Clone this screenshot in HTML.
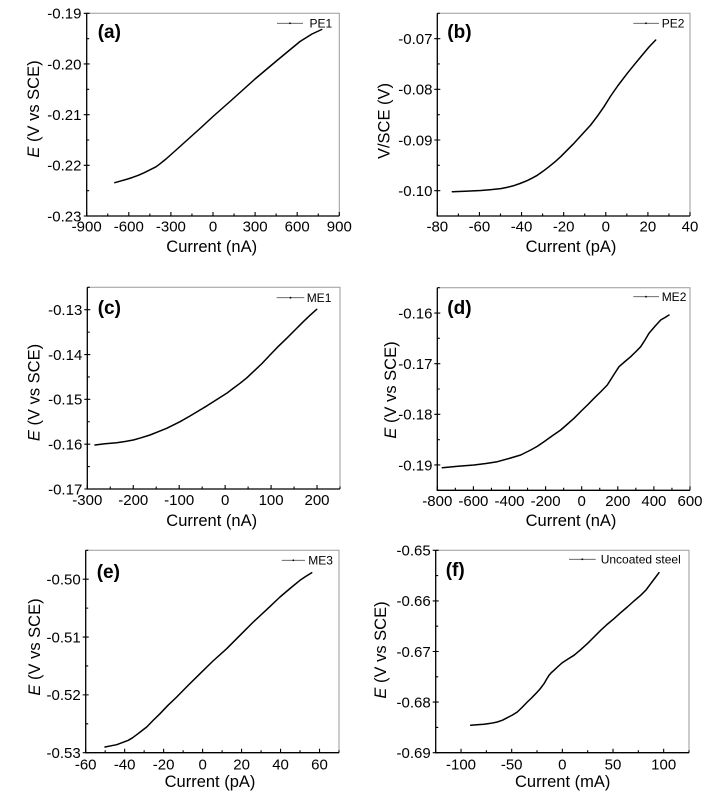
<!DOCTYPE html>
<html>
<head>
<meta charset="utf-8">
<style>
html,body{margin:0;padding:0;background:#fff;}
svg{display:block;}
text{font-family:"Liberation Sans",Arial,sans-serif;fill:#000;}
.tl{font-size:15px;}
.tt{font-size:16.5px;}
.pl{font-size:19px;font-weight:bold;}
.lg{font-size:12px;}
.ax{stroke:#000;stroke-width:1.3;fill:none;}
.fr{stroke:#9a9a9a;stroke-width:1;fill:none;}
.tk{stroke:#000;stroke-width:1.1;fill:none;}
.cv{stroke:#000;stroke-width:1.5;fill:none;stroke-linejoin:round;stroke-linecap:round;}
.ll{stroke:#555;stroke-width:0.9;fill:none;}
</style>
</head>
<body>
<svg width="728" height="802" viewBox="0 0 728 802" xmlns="http://www.w3.org/2000/svg">
<rect width="728" height="802" fill="#fff"/>

<!-- ================= Panel (a) ================= -->
<g>
<path class="fr" d="M86.7 13.3 H339.3 V216"/>
<path class="ax" d="M86.7 13.3 V216 H339.3"/>
<path class="tk" d="M86.7 216v-4M107.75 216v-2.5M128.8 216v-4M149.85 216v-2.5M170.9 216v-4M191.95 216v-2.5M213 216v-4M234.05 216v-2.5M255.1 216v-4M276.15 216v-2.5M297.2 216v-4M318.25 216v-2.5M339.3 216v-4"/>
<path class="tk" d="M83.7 13.3h6M86.7 38.64h2.5M83.7 63.98h6M86.7 89.32h2.5M83.7 114.66h6M86.7 140h2.5M83.7 165.34h6M86.7 190.68h2.5M83.7 216h6"/>
<g class="tl" text-anchor="end">
<text x="81.5" y="18.6">-0.19</text>
<text x="81.5" y="69.3">-0.20</text>
<text x="81.5" y="120">-0.21</text>
<text x="81.5" y="170.6">-0.22</text>
<text x="81.5" y="221.3">-0.23</text>
</g>
<g class="tl" text-anchor="middle">
<text x="86.7" y="231.5">-900</text>
<text x="128.8" y="231.5">-600</text>
<text x="170.9" y="231.5">-300</text>
<text x="213" y="231.5">0</text>
<text x="255.1" y="231.5">300</text>
<text x="297.2" y="231.5">600</text>
<text x="339.3" y="231.5">900</text>
</g>
<text class="tt" x="211.7" y="252" text-anchor="middle">Current (nA)</text>
<text class="tt" transform="translate(39 109) rotate(-90)" text-anchor="middle"><tspan font-style="italic">E</tspan> (V vs SCE)</text>
<text class="pl" x="97.7" y="38">(a)</text>
<path class="ll" d="M277 23.3H303"/><circle cx="290" cy="23.3" r="0.9" fill="#000"/>
<text class="lg" x="309.5" y="27.6">PE1</text>
<polyline class="cv" points="114.8,182.7 120,181.2 126,179.5 132,177.6 138,175.4 144,172.8 150,169.8 156,166.8 160,163.8 166,159 175,151 185,142 200,128.5 213,116.5 230,101.5 255,79 277,60.5 300,41.5 312,34 321.7,29.5"/>
</g>

<!-- ================= Panel (b) ================= -->
<g>
<path class="fr" d="M437.3 13.3 H690 V216"/>
<path class="ax" d="M437.3 13.3 V216 H690"/>
<path class="tk" d="M437.3 216v-4M458.36 216v-2.5M479.42 216v-4M500.48 216v-2.5M521.54 216v-4M542.6 216v-2.5M563.66 216v-4M584.72 216v-2.5M605.78 216v-4M626.84 216v-2.5M647.9 216v-4M668.96 216v-2.5M690 216v-4"/>
<path class="tk" d="M437.3 13.3h2.5M434.3 38.64h6M437.3 63.98h2.5M434.3 89.32h6M437.3 114.66h2.5M434.3 140h6M437.3 165.34h2.5M434.3 190.68h6M437.3 216h2.5"/>
<g class="tl" text-anchor="end">
<text x="432.5" y="43.9">-0.07</text>
<text x="432.5" y="94.6">-0.08</text>
<text x="432.5" y="145.3">-0.09</text>
<text x="432.5" y="196">-0.10</text>
</g>
<g class="tl" text-anchor="middle">
<text x="437.3" y="231.5">-80</text>
<text x="479.42" y="231.5">-60</text>
<text x="521.54" y="231.5">-40</text>
<text x="563.66" y="231.5">-20</text>
<text x="605.78" y="231.5">0</text>
<text x="647.9" y="231.5">20</text>
<text x="690" y="231.5">40</text>
</g>
<text class="tt" x="571" y="252" text-anchor="middle">Current (pA)</text>
<text class="tt" transform="translate(389.5 121) rotate(-90)" text-anchor="middle">V/SCE (V)</text>
<text class="pl" x="447.3" y="38">(b)</text>
<path class="ll" d="M633.3 23.3H659"/><circle cx="646" cy="23.3" r="0.9" fill="#000"/>
<text class="lg" x="661.7" y="27.6">PE2</text>
<polyline class="cv" points="452.3,191.7 465,191.3 480.7,190.5 490,189.7 500.7,188.6 507,187.4 514,185.6 520,183.5 527.3,180.6 532,178.2 537.3,175.3 543,171.3 549,166.7 555,161.8 560.7,156.7 567,150.3 574,143.3 582,134.5 590.7,125 598,115.3 604,106.7 610.7,96 618,85.5 627.3,73.3 635,63.8 642.3,55 649,47 655.7,40"/>
</g>

<!-- ================= Panel (c) ================= -->
<g>
<path class="fr" d="M87.3 287.3 H340 V489"/>
<path class="ax" d="M87.3 287.3 V489 H340"/>
<path class="tk" d="M87.3 489v-4M110.27 489v-2.5M133.25 489v-4M156.22 489v-2.5M179.19 489v-4M202.17 489v-2.5M225.14 489v-4M248.11 489v-2.5M271.08 489v-4M294.06 489v-2.5M317.03 489v-4M340 489v-2.5"/>
<path class="tk" d="M87.3 287.3h2.5M84.3 309.71h6M87.3 332.12h2.5M84.3 354.53h6M87.3 376.94h2.5M84.3 399.35h6M87.3 421.76h2.5M84.3 444.17h6M87.3 466.58h2.5M84.3 489h6"/>
<g class="tl" text-anchor="end">
<text x="82.3" y="315">-0.13</text>
<text x="82.3" y="359.8">-0.14</text>
<text x="82.3" y="404.6">-0.15</text>
<text x="82.3" y="449.5">-0.16</text>
<text x="82.3" y="494.3">-0.17</text>
</g>
<g class="tl" text-anchor="middle">
<text x="87.3" y="505">-300</text>
<text x="133.25" y="505">-200</text>
<text x="179.19" y="505">-100</text>
<text x="225.14" y="505">0</text>
<text x="271.08" y="505">100</text>
<text x="317.03" y="505">200</text>
</g>
<text class="tt" x="211.7" y="526" text-anchor="middle">Current (nA)</text>
<text class="tt" transform="translate(39.5 392.5) rotate(-90)" text-anchor="middle"><tspan font-style="italic">E</tspan> (V vs SCE)</text>
<text class="pl" x="97.7" y="314">(c)</text>
<path class="ll" d="M276.7 297.7H304.3"/><circle cx="290.5" cy="297.7" r="0.9" fill="#000"/>
<text class="lg" x="306.7" y="302">ME1</text>
<polyline class="cv" points="95,445 105,443.8 116.7,442.7 125,441.5 133.3,440 141,437.8 150,435 158,431.8 166.7,428.3 173,425.2 180,421.7 190,416 200,410 207,405.8 213.3,401.7 220,397.5 226.7,393.3 233,388.5 240,383.3 247,377.7 253.3,371.7 262,363.5 270,355 278,346.7 286.7,338.3 295,330 303.3,321.7 310,315.3 316.7,309.3"/>
</g>

<!-- ================= Panel (d) ================= -->
<g>
<path class="fr" d="M437.3 287.7 H690 V490.3"/>
<path class="ax" d="M437.3 287.7 V490.3 H690"/>
<path class="tk" d="M437.3 490.3v-4M455.35 490.3v-2.5M473.4 490.3v-4M491.45 490.3v-2.5M509.5 490.3v-4M527.55 490.3v-2.5M545.6 490.3v-4M563.65 490.3v-2.5M581.7 490.3v-4M599.75 490.3v-2.5M617.8 490.3v-4M635.85 490.3v-2.5M653.9 490.3v-4M671.95 490.3v-2.5M690 490.3v-4"/>
<path class="tk" d="M437.3 287.7h2.5M434.3 313.03h6M437.3 338.35h2.5M434.3 363.68h6M437.3 389h2.5M434.3 414.33h6M437.3 439.65h2.5M434.3 464.98h6M437.3 490.3h2.5"/>
<g class="tl" text-anchor="end">
<text x="432.5" y="318.3">-0.16</text>
<text x="432.5" y="369">-0.17</text>
<text x="432.5" y="419.6">-0.18</text>
<text x="432.5" y="470.3">-0.19</text>
</g>
<g class="tl" text-anchor="middle">
<text x="437.3" y="506">-800</text>
<text x="473.4" y="506">-600</text>
<text x="509.5" y="506">-400</text>
<text x="545.6" y="506">-200</text>
<text x="581.7" y="506">0</text>
<text x="617.8" y="506">200</text>
<text x="653.9" y="506">400</text>
<text x="690" y="506">600</text>
</g>
<text class="tt" x="571" y="526" text-anchor="middle">Current (nA)</text>
<text class="tt" transform="translate(396 390) rotate(-90)" text-anchor="middle"><tspan font-style="italic">E</tspan> (V vs SCE)</text>
<text class="pl" x="447.3" y="314">(d)</text>
<path class="ll" d="M633.3 296.7H659"/><circle cx="646" cy="296.7" r="0.9" fill="#000"/>
<text class="lg" x="661.7" y="301">ME2</text>
<polyline class="cv" points="442.3,467.7 458,466.3 474,465 486,463.5 497.3,461.7 509,458.5 520.7,455 530.7,450 537,446.5 544,441.7 552,436 560.7,430 567,424.5 574,418.3 582.3,410 588,404.5 594,398.3 601,391.5 607.3,385 613,376 619,366.7 625,361.5 630.7,356.7 636,351.5 640.7,346.7 645,340 649,333.3 655,326.3 660.7,320 665,317.5 669,315"/>
</g>

<!-- ================= Panel (e) ================= -->
<g>
<path class="fr" d="M85.7 550.3 H339 V752.7"/>
<path class="ax" d="M85.7 550.3 V752.7 H339"/>
<path class="tk" d="M85.7 752.7v-4M105.18 752.7v-2.5M124.67 752.7v-4M144.15 752.7v-2.5M163.64 752.7v-4M183.12 752.7v-2.5M202.61 752.7v-4M222.1 752.7v-2.5M241.58 752.7v-4M261.07 752.7v-2.5M280.55 752.7v-4M300.04 752.7v-2.5M319.52 752.7v-4M339 752.7v-2.5"/>
<path class="tk" d="M85.7 550.3h2.5M82.7 579.21h6M85.7 608.13h2.5M82.7 637.04h6M85.7 665.96h2.5M82.7 694.87h6M85.7 723.79h2.5M82.7 752.7h6"/>
<g class="tl" text-anchor="end">
<text x="80.7" y="584.5">-0.50</text>
<text x="80.7" y="642.3">-0.51</text>
<text x="80.7" y="700.2">-0.52</text>
<text x="80.7" y="758">-0.53</text>
</g>
<g class="tl" text-anchor="middle">
<text x="85.7" y="769.5">-60</text>
<text x="124.67" y="769.5">-40</text>
<text x="163.64" y="769.5">-20</text>
<text x="202.61" y="769.5">0</text>
<text x="241.58" y="769.5">20</text>
<text x="280.55" y="769.5">40</text>
<text x="319.52" y="769.5">60</text>
</g>
<text class="tt" x="210" y="787" text-anchor="middle">Current (pA)</text>
<text class="tt" transform="translate(40 647) rotate(-90)" text-anchor="middle"><tspan font-style="italic">E</tspan> (V vs SCE)</text>
<text class="pl" x="96.7" y="578">(e)</text>
<path class="ll" d="M281.7 560.3H305"/><circle cx="293.3" cy="560.3" r="0.9" fill="#000"/>
<text class="lg" x="308.3" y="564.6">ME3</text>
<polyline class="cv" points="105,747 111,745.8 116.7,744.7 122,742.7 128.3,740.3 132.5,737.8 136.7,734.7 141.5,731 146.7,727 153,720.5 160,713.7 168,705.3 176.7,697 188,685.5 200,673.7 213,661 226.7,648.7 240,635.3 253.3,622 267,609.3 280,597 290,588.5 300,580.3 306,576.3 311.7,572.7"/>
</g>

<!-- ================= Panel (f) ================= -->
<g>
<path class="fr" d="M435.7 550.3 H689 V752.7"/>
<path class="ax" d="M435.7 550.3 V752.7 H689"/>
<path class="tk" d="M435.7 752.7v-2.5M461.03 752.7v-4M486.36 752.7v-2.5M511.69 752.7v-4M537.02 752.7v-2.5M562.35 752.7v-4M587.68 752.7v-2.5M613.01 752.7v-4M638.34 752.7v-2.5M663.67 752.7v-4M689 752.7v-2.5"/>
<path class="tk" d="M432.7 550.3h6M435.7 575.6h2.5M432.7 600.9h6M435.7 626.2h2.5M432.7 651.5h6M435.7 676.8h2.5M432.7 702.1h6M435.7 727.4h2.5M432.7 752.7h6"/>
<g class="tl" text-anchor="end">
<text x="430.7" y="555.6">-0.65</text>
<text x="430.7" y="606.2">-0.66</text>
<text x="430.7" y="656.8">-0.67</text>
<text x="430.7" y="707.4">-0.68</text>
<text x="430.7" y="758">-0.69</text>
</g>
<g class="tl" text-anchor="middle">
<text x="461.03" y="769.5">-100</text>
<text x="511.69" y="769.5">-50</text>
<text x="562.35" y="769.5">0</text>
<text x="613.01" y="769.5">50</text>
<text x="663.67" y="769.5">100</text>
</g>
<text class="tt" x="562.7" y="787" text-anchor="middle">Current (mA)</text>
<text class="tt" transform="translate(386 650) rotate(-90)" text-anchor="middle"><tspan font-style="italic">E</tspan> (V vs SCE)</text>
<text class="pl" x="445.7" y="576">(f)</text>
<path class="ll" d="M569 559.3H595.7"/><circle cx="582.3" cy="559.3" r="0.9" fill="#000"/>
<text class="lg" x="600.7" y="563.6">Uncoated steel</text>
<polyline class="cv" points="470.7,725.3 477,724.8 484,724.3 491,723.3 497.3,722 502.5,720.2 507.3,717.7 512.5,715 517.3,712 522,707.5 527.3,702 531.5,698 535.7,693.7 540,689 544,683.7 547,678.5 549,675.3 551.5,672.5 554,670.3 558,666.5 562.3,662.7 568,659 574,655.3 580.5,649.8 587.3,643.7 594,637 600.7,630.3 607,624.5 614,618.7 620.5,612.8 627.3,607 634,601 640.7,595.3 646,590 650.7,583.7 655,578 659,572.7"/>
</g>
</svg>
</body>
</html>
